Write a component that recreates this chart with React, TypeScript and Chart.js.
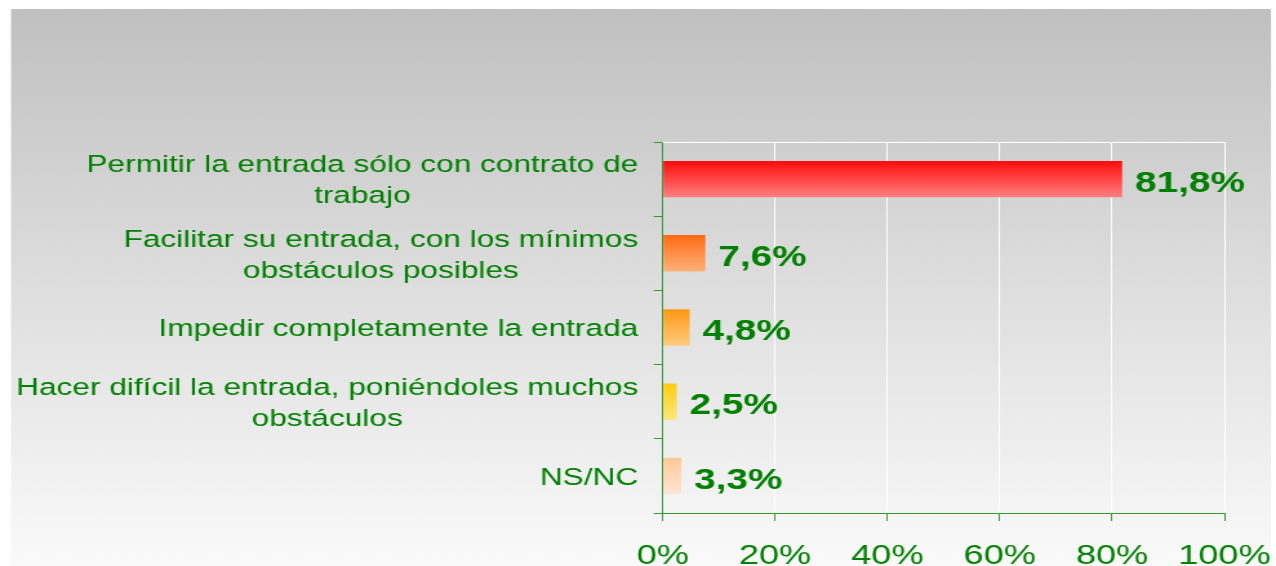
import React, { useEffect, useRef } from 'react';
import { Chart, registerables } from 'chart.js';

Chart.register(...registerables);

// ---- data ----
const categories: string[][] = [
  ['Permitir la entrada sólo con contrato de', 'trabajo'],
  ['Facilitar su entrada, con los mínimos', 'obstáculos posibles'],
  ['Impedir completamente la entrada'],
  ['Hacer difícil la entrada, poniéndoles muchos', 'obstáculos'],
  ['NS/NC'],
];
const values: number[] = [81.8, 7.6, 4.8, 2.5, 3.3];
const valueLabels: string[] = ['81,8%', '7,6%', '4,8%', '2,5%', '3,3%'];
const xMin = 0;
const xMax = 100;
const xStep = 20;

// ---- styles ----
const barTop = ['#ff0a0a', '#ff6a14', '#ff9814', '#ffcc10', '#ffc898'];
const barBottom = ['#ff8080', '#ffb27a', '#ffcc80', '#ffe680', '#ffe6d4'];
const TEXT = '#008000';
const AXIS = '#339933';
const FONT = '"Liberation Sans", Arial, Helvetica, sans-serif';

const PAGE_W = 1276;
const PAGE_H = 566;
const CANVAS_W = 989; // canvas is stretched horizontally to PAGE_W
const SX = PAGE_W / CANVAS_W;

const bgPlugin = {
  id: 'bgPanel',
  beforeDraw(chart: any) {
    const { ctx, width, height } = chart;
    ctx.save();
    ctx.fillStyle = '#ffffff';
    ctx.fillRect(0, 0, width, height);
    const x0 = 11 / SX;
    const x1 = 1271 / SX;
    const y0 = 9;
    const g = ctx.createLinearGradient(0, y0, 0, height);
    g.addColorStop(0, '#c0c0c0');
    g.addColorStop(0.5, '#dedede');
    g.addColorStop(1, '#fafafa');
    ctx.fillStyle = g;
    ctx.fillRect(x0, y0, x1 - x0, height - y0);
    ctx.restore();
  },
  beforeDatasetsDraw(chart: any) {
    const { ctx, chartArea } = chart;
    ctx.save();
    ctx.strokeStyle = '#ffffff';
    ctx.lineWidth = 1;
    ctx.beginPath();
    ctx.moveTo(chartArea.left, chartArea.top + 0.5);
    ctx.lineTo(chartArea.right, chartArea.top + 0.5);
    ctx.stroke();
    ctx.restore();
  },
};

const labelPlugin = {
  id: 'textLabels',
  afterDraw(chart: any) {
    const { ctx, chartArea } = chart;
    const yScale = chart.scales.y;
    ctx.save();
    ctx.fillStyle = TEXT;
    const catSize = 24.5;
    ctx.font = `${catSize}px ${FONT}`;
    ctx.textAlign = 'center';
    ctx.textBaseline = 'alphabetic';
    const lineH = 31;
    const cap = catSize * 0.716;
    categories.forEach((lines, i) => {
      const cy = yScale.getPixelForValue(i);
      const maxW = Math.max(...lines.map((l) => ctx.measureText(l).width));
      const cx = chartArea.left - 19 - maxW / 2;
      lines.forEach((l, k) => {
        const ly = cy + (k - (lines.length - 1) / 2) * lineH + cap / 2;
        ctx.fillText(l, cx, ly);
      });
    });
    const valSize = 30;
    ctx.font = `bold ${valSize}px ${FONT}`;
    ctx.textAlign = 'left';
    const meta = chart.getDatasetMeta(0);
    meta.data.forEach((bar: any, i: number) => {
      ctx.fillText(valueLabels[i], bar.x + 10, bar.y + valSize * 0.358 + 2);
    });
    ctx.restore();
  },
};

export default function App() {
  const ref = useRef<HTMLCanvasElement | null>(null);

  useEffect(() => {
    if (!ref.current) return;
    const chart = new Chart(ref.current, {
      type: 'bar',
      data: {
        labels: categories.map((c) => c.join(' ')),
        datasets: [
          {
            data: values,
            barPercentage: 1,
            categoryPercentage: 0.49,
            borderWidth: 0,
            backgroundColor: (c: any) => {
              const chart = c.chart;
              const ca = chart.chartArea;
              const i = c.dataIndex;
              if (!ca || i === undefined) return barTop[0];
              const yc = chart.scales.y.getPixelForValue(i);
              const half = ((ca.bottom - ca.top) / categories.length) * 0.49 / 2;
              const g = chart.ctx.createLinearGradient(0, yc - half, 0, yc + half);
              g.addColorStop(0, barTop[i]);
              g.addColorStop(1, barBottom[i]);
              return g;
            },
          },
        ],
      },
      options: {
        indexAxis: 'y',
        responsive: false,
        animation: false,
        devicePixelRatio: 1,
        layout: { padding: { top: 142, right: 40, left: 0, bottom: 0 } },
        plugins: {
          legend: { display: false },
          tooltip: { enabled: false },
        },
        scales: {
          x: {
            type: 'linear',
            position: 'bottom',
            min: xMin,
            max: xMax,
            ticks: {
              stepSize: xStep,
              callback: (v: any) => `${v}%`,
              color: TEXT,
              font: { family: FONT, size: 28 },
              padding: 18,
              maxRotation: 0,
            },
            grid: {
              color: '#ffffff',
              lineWidth: 1,
              tickColor: AXIS,
              tickLength: 8,
            },
            border: { color: AXIS, width: 1 },
            afterFit: (s: any) => {
              s.height = 53;
              s.paddingLeft = 0;
              s.paddingRight = 0;
            },
          },
          y: {
            type: 'category',
            position: 'left',
            offset: true,
            z: 1,
            ticks: { display: false },
            grid: {
              drawOnChartArea: false,
              offset: true,
              color: AXIS,
              tickColor: AXIS,
              tickLength: 7,
            },
            border: { color: AXIS, width: 1 },
            afterFit: (s: any) => {
              s.width = 662.7 / SX;
            },
          },
        },
      },
      plugins: [bgPlugin, labelPlugin],
    } as any);
    return () => chart.destroy();
  }, []);

  return (
    <canvas
      ref={ref}
      width={CANVAS_W}
      height={PAGE_H}
      style={{
        position: 'fixed',
        left: 0,
        top: 0,
        width: `${PAGE_W}px`,
        height: `${PAGE_H}px`,
      }}
    />
  );
}
